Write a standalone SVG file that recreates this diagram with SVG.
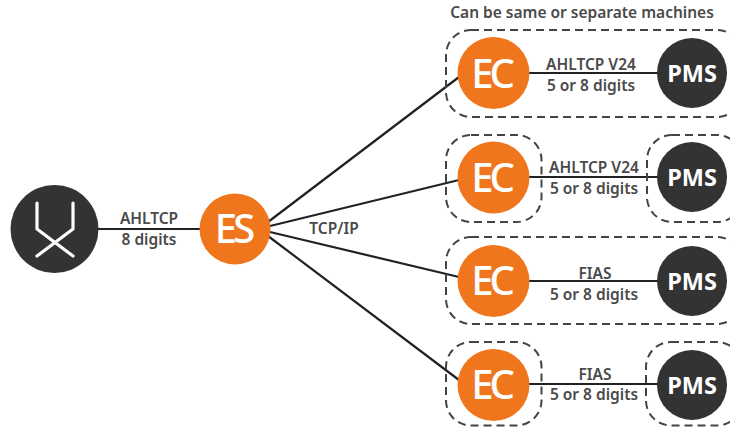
<svg xmlns="http://www.w3.org/2000/svg" width="730" height="427" viewBox="0 0 730 427">
<style>
text{font-family:"Noto Sans","Open Sans",sans-serif;font-weight:600}
.l{font-size:15.500px;fill:#4a4a4a;text-anchor:middle}
.d{fill:none;stroke:#444;stroke-width:2;stroke-dasharray:8 5}
.c{fill:none;stroke:#222;stroke-width:2.2}
.o{fill:#f0761e}
.k{fill:#333}
.w{fill:#fff;text-anchor:middle}
.p{font-size:23.500px;font-weight:700}
.e{font-size:40px;font-weight:500;letter-spacing:-4px}
</style>
<rect width="730" height="427" fill="#fff"/>
<g id="connectors">
<path class="c" d="M98 229H200M268 222L459 77M270 226L459 180M270 232L459 277M268 236L459 380"/>
<path class="c" d="M529 73H658M529 177H658M529 281H658M529 384H658"/>
</g>
<g id="groups">
<rect class="d" x="446" y="30" width="296" height="87" rx="25"/>
<rect class="d" x="446" y="135" width="95.500" height="87" rx="25"/>
<rect class="d" x="647" y="135" width="95" height="87" rx="25"/>
<rect class="d" x="446" y="237" width="296" height="87" rx="25"/>
<rect class="d" x="446" y="342" width="95.500" height="83.500" rx="25"/>
<rect class="d" x="646" y="342" width="96" height="83.500" rx="25"/>
</g>
<g id="exchange">
<circle class="k" cx="54.500" cy="229" r="44"/>
<path d="M37 203V229L73 256M73 203V229L37 256" fill="none" stroke="#fff" stroke-width="3.200" stroke-linecap="round" stroke-linejoin="round"/>
</g>
<g id="es"><circle class="o" cx="235" cy="229" r="35.500"/><text class="w e" x="233" y="243">ES</text></g>
<g id="ec1"><circle class="o" cx="493.500" cy="73" r="36"/><text class="w e" x="491" y="88">EC</text></g>
<g id="ec2"><circle class="o" cx="493.500" cy="177.500" r="36"/><text class="w e" x="491" y="192">EC</text></g>
<g id="ec3"><circle class="o" cx="493.500" cy="281" r="36"/><text class="w e" x="491" y="295">EC</text></g>
<g id="ec4"><circle class="o" cx="493.500" cy="385" r="36"/><text class="w e" x="491" y="399">EC</text></g>
<g id="pms1"><circle class="k" cx="692" cy="73" r="35"/><text class="w p" x="692" y="82">PMS</text></g>
<g id="pms2"><circle class="k" cx="692" cy="177" r="35"/><text class="w p" x="692" y="186">PMS</text></g>
<g id="pms3"><circle class="k" cx="692" cy="281" r="35"/><text class="w p" x="692" y="290">PMS</text></g>
<g id="pms4"><circle class="k" cx="692" cy="385" r="35"/><text class="w p" x="692" y="394">PMS</text></g>
<g id="labels">
<text class="l" x="582" y="18">Can be same or separate machines</text>
<text class="l" x="149" y="224">AHLTCP</text>
<text class="l" x="149" y="245">8 digits</text>
<text class="l" x="334" y="234">TCP/IP</text>
<text class="l" x="591" y="70">AHLTCP V24</text>
<text class="l" x="591" y="91">5 or 8 digits</text>
<text class="l" x="594" y="173">AHLTCP V24</text>
<text class="l" x="594" y="194">5 or 8 digits</text>
<text class="l" x="595" y="279">FIAS</text>
<text class="l" x="594" y="300">5 or 8 digits</text>
<text class="l" x="595" y="380">FIAS</text>
<text class="l" x="594" y="400">5 or 8 digits</text>
</g>
</svg>
